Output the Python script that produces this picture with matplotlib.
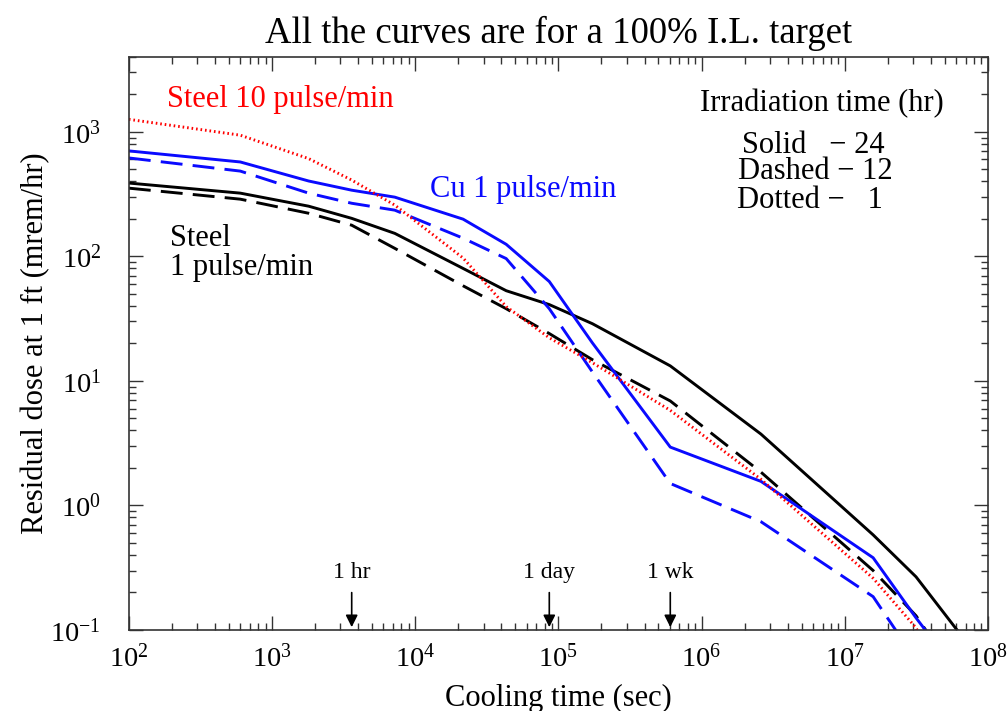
import numpy as np
import matplotlib
matplotlib.use("Agg")
from matplotlib import pyplot as plt
from matplotlib.ticker import LogLocator, NullFormatter

plt.rcParams['font.family'] = ['Liberation Serif', 'DejaVu Serif']
plt.rcParams['mathtext.fontset'] = 'stix'

# cooling time grid (sec)
cool_time = [100, 600, 1800, 3600, 7200, 21600, 43200, 86400, 172800,
             604800, 2.6e6, 1.58e7, 3.15e7, 6.3e7]

# Steel 1 pulse/min
steel1_24h = [388, 322, 253, 202, 153, 80, 53, 41, 28.8, 13.2, 3.74, 0.58, 0.267, 0.095]
steel1_12h = [353, 288, 222, 178, 116, 58, 38, 24, 14.8, 6.9, 1.85, 0.30, 0.13, 0.04]
# Cu 1 pulse/min
cu1_24h = [703, 573, 403, 340, 299, 199, 125, 62.8, 20.2, 2.94, 1.56, 0.38, 0.125, 0.044]
cu1_12h = [617, 484, 322, 267, 235, 140, 96, 38, 11.8, 1.5, 0.74, 0.185, 0.057, 0.02]
# Steel 10 pulse/min
steel10_1h = [1260, 940, 610, 410, 258, 97, 39.5, 22.2, 14, 5.8, 1.62, 0.26, 0.104, 0.02]

marks = [3600, 86400, 604800]
mark_labels = ["1 hr", "1 day", "1 wk"]

blue = '#0a0aff'

fig = plt.figure(figsize=(10.07, 7.11), dpi=100)
ax = fig.add_axes([0.128, 0.114, 0.853, 0.806])

lw = 2.1
ax.plot(cool_time, steel1_24h, color='black', lw=lw)
ax.plot(cool_time, steel1_12h, color='black', lw=lw, dashes=(7.5, 3.5))
ax.plot(cool_time, cu1_24h, color=blue, lw=lw)
ax.plot(cool_time, cu1_12h, color=blue, lw=lw, dashes=(7.5, 3.5))
ax.plot(cool_time, steel10_1h, color='red', lw=lw, linestyle=(0, (0.55, 1.0)))

ax.set_xscale('log')
ax.set_yscale('log')
ax.set_xlim(1e2, 1e8)
ax.set_ylim(0.1, 4000)

ax.xaxis.set_minor_locator(LogLocator(base=10, subs=np.arange(2, 10)))
ax.yaxis.set_minor_locator(LogLocator(base=10, subs=np.arange(2, 10)))
ax.xaxis.set_minor_formatter(NullFormatter())
ax.yaxis.set_minor_formatter(NullFormatter())
ax.tick_params(which='both', direction='in', top=True, right=True, labelsize=20.5, width=1, color='#333333')
ax.tick_params(which='major', length=10)
ax.tick_params(axis='x', which='major', pad=10)
ax.tick_params(axis='y', which='major', pad=20)
ax.tick_params(which='minor', length=5)
for sp in ax.spines.values():
    sp.set_linewidth(1.2)
    sp.set_color('#333333')

ax.set_xlabel("Cooling time (sec)", fontsize=22, labelpad=8)
ax.set_ylabel("Residual dose at 1 ft (mrem/hr)", fontsize=22, labelpad=0)
ax.set_title("All the curves are for a 100% I.L. target", fontsize=26.5, pad=10)

for t, lab in zip(marks, mark_labels):
    ax.annotate("", xy=(t, 0.1), xytext=(t, 0.21),
                arrowprops=dict(arrowstyle='-|>', color='black', lw=1.2, mutation_scale=18))
    ax.text(t, 0.29, lab, ha='center', va='center', fontsize=17)

ax.text(0.044, 0.925, "Steel 10 pulse/min", transform=ax.transAxes, color='red', fontsize=22, va='center')
ax.text(0.350, 0.768, "Cu 1 pulse/min", transform=ax.transAxes, color=blue, fontsize=22, va='center')
ax.text(0.048, 0.658, "Steel\n1 pulse/min", transform=ax.transAxes, color='black', fontsize=22,
        va='center', linespacing=1.0)
ax.text(0.807, 0.918, "Irradiation time (hr)", transform=ax.transAxes, ha='center', va='center', fontsize=22)
ax.text(0.797, 0.846, "Solid   \u2212 24", transform=ax.transAxes, ha='center', va='center', fontsize=22)
ax.text(0.799, 0.800, "Dashed \u2212 12", transform=ax.transAxes, ha='center', va='center', fontsize=22)
ax.text(0.793, 0.749, "Dotted \u2212   1", transform=ax.transAxes, ha='center', va='center', fontsize=22)

fig.savefig("out.png", dpi=100)
